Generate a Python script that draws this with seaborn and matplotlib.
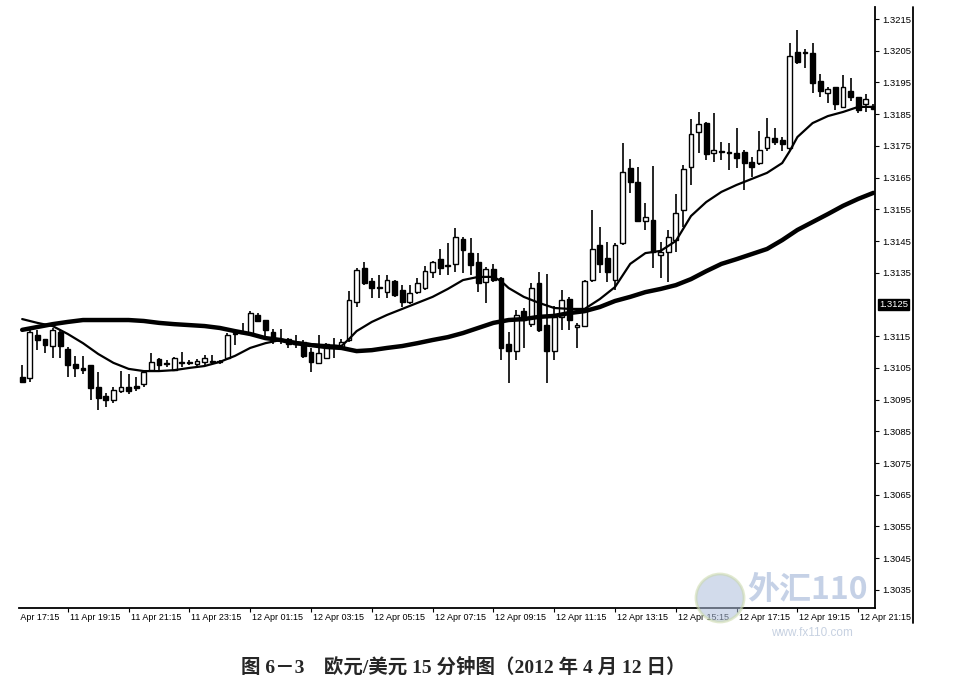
import matplotlib
matplotlib.use("Agg")
import matplotlib.pyplot as plt
import matplotlib.transforms as mtransforms
from matplotlib.lines import Line2D
from matplotlib.patches import Ellipse
import numpy as np
import pandas as pd
import seaborn as sns

# EUR/USD 15-minute bars, first visible bar is index 2 (11 Apr 17:45)
first_bar = 2
opens = [1.31021, 1.31018, 1.31154, 1.31141, 1.31119, 1.31163, 1.31110, 1.31062, 1.31050, 1.31059,
         1.30990, 1.30961, 1.30949, 1.30977, 1.30990, 1.30993, 1.30999, 1.31043, 1.31078, 1.31066,
         1.31043, 1.31069, 1.31069, 1.31062, 1.31069, 1.31069, 1.31069, 1.31081, 1.31157, 1.31160,
         1.31160, 1.31217, 1.31201, 1.31163, 1.31141, 1.31141, 1.31128, 1.31132, 1.31100, 1.31066,
         1.31081, 1.31119, 1.31113, 1.31138, 1.31258, 1.31365, 1.31324, 1.31302, 1.31289, 1.31324,
         1.31296, 1.31258, 1.31289, 1.31302, 1.31352, 1.31393, 1.31371, 1.31378, 1.31456, 1.31412,
         1.31384, 1.31321, 1.31362, 1.31333, 1.31125, 1.31103, 1.31229, 1.31188, 1.31318, 1.31185,
         1.31103, 1.31211, 1.31267, 1.31179, 1.31182, 1.31327, 1.31438, 1.31397, 1.31327, 1.31444,
         1.31680, 1.31636, 1.31513, 1.31516, 1.31406, 1.31415, 1.31453, 1.31548, 1.31683, 1.31794,
         1.31822, 1.31728, 1.31731, 1.31728, 1.31728, 1.31731, 1.31699, 1.31696, 1.31743, 1.31775,
         1.31769, 1.31743, 1.32046, 1.32046, 1.32043, 1.31955, 1.31917, 1.31936, 1.31873, 1.31923,
         1.31904, 1.31882, 1.31876]
highs = [1.31059, 1.31173, 1.31170, 1.31141, 1.31176, 1.31173, 1.31116, 1.31088, 1.31088, 1.31059,
         1.31037, 1.30971, 1.30990, 1.31040, 1.31031, 1.31021, 1.31040, 1.31097, 1.31081, 1.31075,
         1.31084, 1.31100, 1.31075, 1.31078, 1.31091, 1.31091, 1.31075, 1.31160, 1.31170, 1.31192,
         1.31229, 1.31223, 1.31201, 1.31173, 1.31173, 1.31144, 1.31154, 1.31138, 1.31113, 1.31154,
         1.31128, 1.31144, 1.31141, 1.31292, 1.31365, 1.31384, 1.31333, 1.31343, 1.31343, 1.31327,
         1.31311, 1.31311, 1.31333, 1.31371, 1.31387, 1.31425, 1.31444, 1.31491, 1.31463, 1.31460,
         1.31412, 1.31368, 1.31378, 1.31337, 1.31163, 1.31233, 1.31239, 1.31318, 1.31352, 1.31346,
         1.31245, 1.31296, 1.31274, 1.31192, 1.31327, 1.31548, 1.31494, 1.31447, 1.31444, 1.31759,
         1.31709, 1.31683, 1.31570, 1.31687, 1.31447, 1.31485, 1.31598, 1.31690, 1.31835, 1.31857,
         1.31825, 1.31854, 1.31762, 1.31759, 1.31806, 1.31737, 1.31715, 1.31797, 1.31838, 1.31806,
         1.31778, 1.32074, 1.32115, 1.32056, 1.32074, 1.31977, 1.31936, 1.31936, 1.31974, 1.31964,
         1.31904, 1.31914, 1.31882]
lows = [1.31002, 1.31006, 1.31106, 1.31097, 1.31081, 1.31081, 1.31021, 1.31021, 1.31031, 1.30949,
        1.30917, 1.30927, 1.30939, 1.30971, 1.30968, 1.30977, 1.30990, 1.31040, 1.31037, 1.31053,
        1.31040, 1.31053, 1.31059, 1.31056, 1.31059, 1.31062, 1.31062, 1.31075, 1.31122, 1.31157,
        1.31154, 1.31195, 1.31147, 1.31125, 1.31125, 1.31113, 1.31113, 1.31081, 1.31037, 1.31062,
        1.31078, 1.31081, 1.31106, 1.31132, 1.31242, 1.31311, 1.31270, 1.31270, 1.31270, 1.31274,
        1.31242, 1.31251, 1.31283, 1.31296, 1.31333, 1.31343, 1.31343, 1.31352, 1.31349, 1.31343,
        1.31289, 1.31255, 1.31321, 1.31075, 1.31002, 1.31075, 1.31113, 1.31179, 1.31163, 1.31002,
        1.31075, 1.31170, 1.31170, 1.31113, 1.31179, 1.31321, 1.31349, 1.31321, 1.31296, 1.31438,
        1.31602, 1.31510, 1.31485, 1.31365, 1.31333, 1.31321, 1.31415, 1.31494, 1.31627, 1.31728,
        1.31706, 1.31699, 1.31706, 1.31674, 1.31680, 1.31611, 1.31652, 1.31690, 1.31734, 1.31753,
        1.31734, 1.31737, 1.32008, 1.31996, 1.31917, 1.31904, 1.31885, 1.31863, 1.31870, 1.31892,
        1.31854, 1.31857, 1.31863]
closes = [1.31006, 1.31163, 1.31138, 1.31122, 1.31170, 1.31119, 1.31059, 1.31050, 1.31043, 1.30987,
          1.30955, 1.30949, 1.30980, 1.30990, 1.30977, 1.30987, 1.31037, 1.31069, 1.31059, 1.31062,
          1.31081, 1.31066, 1.31066, 1.31072, 1.31081, 1.31072, 1.31072, 1.31154, 1.31160, 1.31163,
          1.31223, 1.31198, 1.31170, 1.31144, 1.31138, 1.31125, 1.31125, 1.31088, 1.31069, 1.31097,
          1.31125, 1.31122, 1.31132, 1.31264, 1.31359, 1.31318, 1.31302, 1.31305, 1.31327, 1.31280,
          1.31258, 1.31286, 1.31318, 1.31355, 1.31384, 1.31365, 1.31374, 1.31463, 1.31422, 1.31374,
          1.31318, 1.31362, 1.31327, 1.31113, 1.31103, 1.31217, 1.31201, 1.31302, 1.31170, 1.31103,
          1.31211, 1.31264, 1.31201, 1.31185, 1.31324, 1.31425, 1.31378, 1.31352, 1.31438, 1.31668,
          1.31636, 1.31513, 1.31526, 1.31415, 1.31415, 1.31463, 1.31538, 1.31677, 1.31788, 1.31819,
          1.31724, 1.31737, 1.31734, 1.31731, 1.31712, 1.31696, 1.31683, 1.31737, 1.31778, 1.31762,
          1.31756, 1.32033, 1.32015, 1.32043, 1.31948, 1.31923, 1.31929, 1.31882, 1.31936, 1.31904,
          1.31863, 1.31899, 1.31866]

# moving averages (bar index, price)
fast_ma_idx = [2, 4, 6, 8, 10, 12, 14, 16, 18, 20, 22, 24, 26, 28, 30, 32, 34, 36, 38, 40, 42, 44,
               45, 46, 48, 50, 52, 54, 56, 58, 60, 62, 64, 65, 66, 68, 70, 72, 74, 76, 78, 80, 82,
               84, 86, 88, 90, 92, 94, 96, 98, 100, 102, 103, 104, 106, 108, 110, 112, 114]
fast_ma = [1.31204, 1.31192, 1.31182, 1.31157, 1.31128, 1.31094, 1.31066, 1.31047, 1.31040, 1.31040,
           1.31043, 1.31050, 1.31056, 1.31069, 1.31088, 1.31113, 1.31128, 1.31138, 1.31132, 1.31125,
           1.31122, 1.31119, 1.31141, 1.31166, 1.31195, 1.31217, 1.31236, 1.31255, 1.31274, 1.31299,
           1.31327, 1.31337, 1.31337, 1.31324, 1.31302, 1.31274, 1.31255, 1.31239, 1.31236, 1.31236,
           1.31267, 1.31305, 1.31378, 1.31412, 1.31419, 1.31450, 1.31529, 1.31573, 1.31605, 1.31627,
           1.31646, 1.31665, 1.31696, 1.31734, 1.31778, 1.31822, 1.31844, 1.31857, 1.31873, 1.31873]
slow_ma_idx = [2, 4, 6, 8, 10, 12, 14, 16, 18, 20, 22, 24, 26, 28, 30, 32, 34, 36, 38, 40, 42, 44,
               46, 48, 50, 52, 54, 56, 58, 60, 62, 64, 66, 68, 70, 72, 74, 76, 78, 80, 82, 84, 86,
               88, 90, 92, 94, 96, 98, 100, 102, 104, 106, 108, 110, 112, 114]
slow_ma = [1.31170, 1.31179, 1.31188, 1.31195, 1.31201, 1.31201, 1.31201, 1.31201, 1.31198, 1.31192,
           1.31188, 1.31185, 1.31182, 1.31176, 1.31166, 1.31157, 1.31144, 1.31138, 1.31128, 1.31122,
           1.31116, 1.31113, 1.31103, 1.31106, 1.31113, 1.31119, 1.31128, 1.31138, 1.31147, 1.31160,
           1.31176, 1.31192, 1.31201, 1.31204, 1.31211, 1.31214, 1.31223, 1.31229, 1.31242, 1.31261,
           1.31274, 1.31289, 1.31299, 1.31311, 1.31330, 1.31355, 1.31378, 1.31393, 1.31409, 1.31425,
           1.31453, 1.31485, 1.31510, 1.31535, 1.31561, 1.31583, 1.31602]

tick_idx = list(range(0, 113, 8))
tick_labels = ["11 Apr 17:15", "11 Apr 19:15", "11 Apr 21:15", "11 Apr 23:15", "12 Apr 01:15",
               "12 Apr 03:15", "12 Apr 05:15", "12 Apr 07:15", "12 Apr 09:15", "12 Apr 11:15",
               "12 Apr 13:15", "12 Apr 15:15", "12 Apr 17:15", "12 Apr 19:15", "12 Apr 21:15"]
price_ticks = [1.3215, 1.3205, 1.3195, 1.3185, 1.3175, 1.3165, 1.3155, 1.3145, 1.3135,
               1.3115, 1.3105, 1.3095, 1.3085, 1.3075, 1.3065, 1.3055, 1.3045, 1.3035]
current_price = 1.3125
caption = "图 6－3　欧元/美元 15 分钟图（2012 年 4 月 12 日）"

bars = pd.DataFrame({"open": opens, "high": highs, "low": lows, "close": closes})
bars["idx"] = np.arange(first_bar, first_bar + len(bars))

sns.set_style("white")
plt.rcParams["font.family"] = ["Liberation Sans", "Noto Sans CJK SC", "DejaVu Sans"]

W, H = 956, 692
fig = plt.figure(figsize=(W / 100, H / 100), dpi=100)
ax = fig.add_axes([19 / W, 84 / H, 856 / W, 601 / H])

# candles
up = bars["close"] >= bars["open"]
ax.vlines(bars["idx"], bars["low"], bars["high"], color="black", linewidth=1.2, zorder=2)
body_bottom = np.minimum(bars["open"], bars["close"])
body_h = np.maximum((bars["close"] - bars["open"]).abs(), 0.000012)
ax.bar(bars["idx"], body_h, bottom=body_bottom, width=0.64,
       color=np.where(up, "white", "black"), edgecolor="black", linewidth=1.0, zorder=3)

sns.lineplot(x=fast_ma_idx, y=fast_ma, ax=ax, color="black", linewidth=1.6, zorder=4)
sns.lineplot(x=slow_ma_idx, y=slow_ma, ax=ax, color="black", linewidth=3.2, zorder=4)

for side in ("left", "top"):
    ax.spines[side].set_visible(False)
for side in ("right", "bottom"):
    ax.spines[side].set_color("black")
    ax.spines[side].set_linewidth(1.3)

ax.yaxis.tick_right()
ax.set_yticks(price_ticks)
ax.set_yticklabels([f"{p:.4f}" for p in price_ticks])
ax.tick_params(axis="y", right=True, left=False, length=3, width=0.8, pad=2,
               labelsize=6.8, direction="out", colors="black")
ax.set_xticks(tick_idx)
ax.set_xticklabels([])
ax.tick_params(axis="x", bottom=True, length=3, width=0.8, direction="out", colors="black")
ax.set_xlabel("")
ax.set_ylabel("")
# limits after the ticks, so the off-chart first tick does not widen the view
ax.set_xlim(1.58, 114.21)
ax.set_ylim(1.30293, 1.32188)

# time labels, left-aligned at their ticks, cut at the chart's left edge
lab_tr = mtransforms.offset_copy(ax.get_xaxis_transform(), fig=fig, x=2, y=-5, units="dots")
clip = mtransforms.TransformedBbox(mtransforms.Bbox.from_extents(19 / W, 0, 1, 1), fig.transFigure)
for k, lab in zip(tick_idx, tick_labels):
    t = fig.text(k, 0, lab, transform=lab_tr, ha="left", va="top", fontsize=6.5, color="black")
    t.set_clip_on(True)
    t.set_clip_box(clip)

# current price tag
tag_tr = mtransforms.offset_copy(ax.get_yaxis_transform(), fig=fig, x=4, y=0, units="dots")
ax.text(1.0, current_price, f"{current_price:.4f}", transform=tag_tr, ha="left", va="center",
        fontsize=6.8, color="white",
        bbox=dict(boxstyle="square,pad=0.15", facecolor="black", edgecolor="black"))

# outer frame line on the right
fig.add_artist(Line2D([913 / W, 913 / W], [1 - 7 / H, 1 - 623 / H], color="black", linewidth=1.3))

# watermark
fig.add_artist(Ellipse((720 / W, 1 - 598 / H), 48 / W, 48 / H, transform=fig.transFigure,
                       facecolor="#aebfdc", edgecolor="#c9d8a8", linewidth=2, alpha=0.55, zorder=5))
fig.text(808 / W, 1 - 590 / H, "外汇110", ha="center", va="center", fontsize=23,
         fontweight="bold", color="#9fb3d6", alpha=0.6, zorder=6,
         family=["Noto Sans CJK SC", "DejaVu Sans"])
fig.text(812 / W, 1 - 633 / H, "www.fx110.com", ha="center", va="center", fontsize=8.5,
         color="#b9c6da", alpha=0.8, zorder=6)

fig.text(463 / W, 1 - 667 / H, caption, ha="center", va="center", fontsize=14, fontweight="bold",
         family=["Liberation Serif", "Noto Sans CJK SC", "DejaVu Sans"])

fig.savefig("out.png", dpi=100, facecolor="white")
plt.close(fig)
